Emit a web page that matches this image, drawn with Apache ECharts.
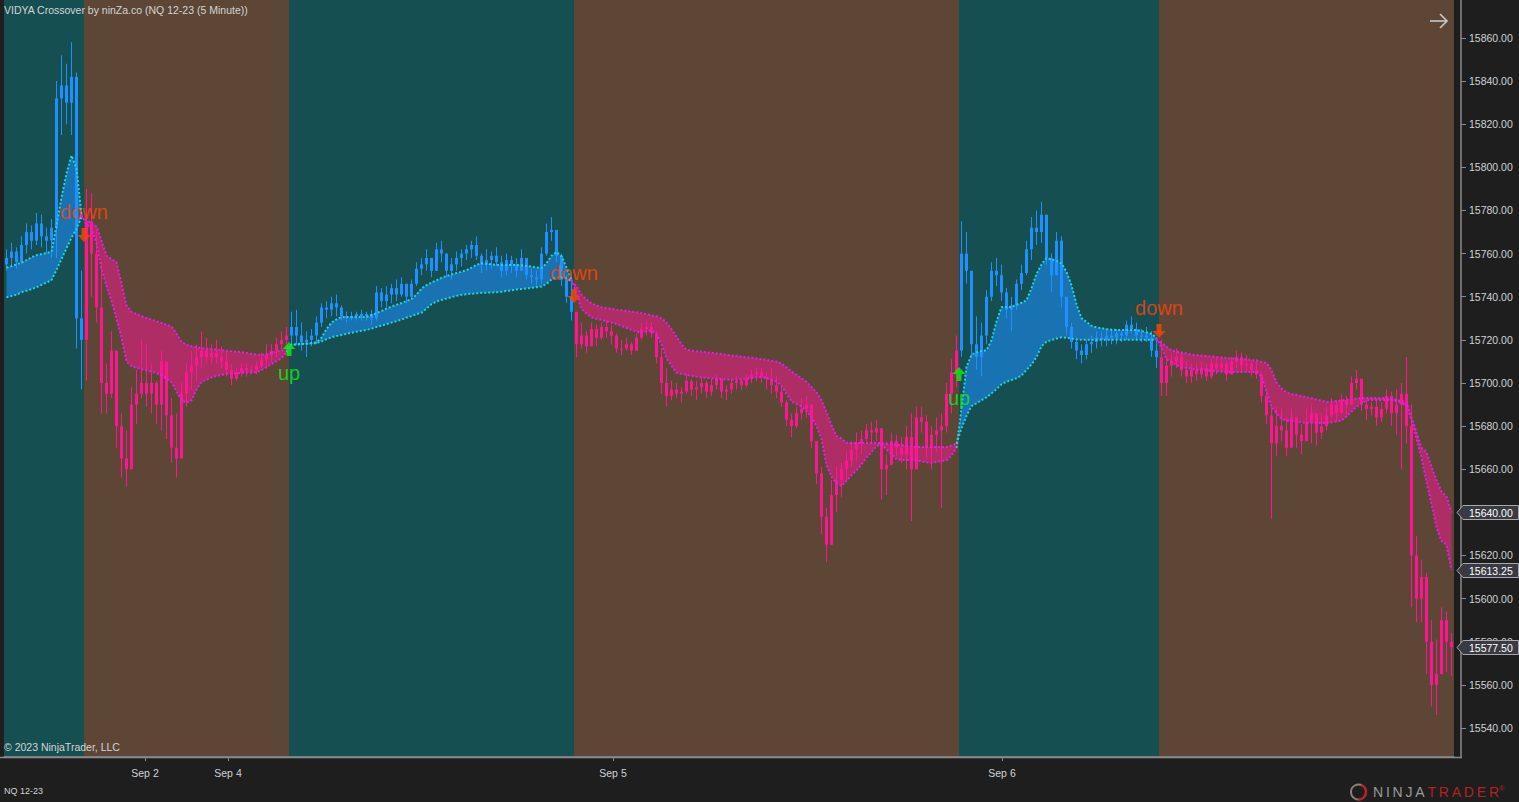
<!DOCTYPE html>
<html><head><meta charset="utf-8">
<script src="https://cdn.jsdelivr.net/npm/echarts@6/dist/echarts.min.js"></script>
<style>html,body{margin:0;padding:0;background:#1e1e1e;overflow:hidden}#chart{width:1519px;height:802px}</style>
</head><body><div id="chart"></div>
<script>
// ---------------- DATA ----------------
const firstOpen = 15755;
const highs = [15762,15765,15763,15768,15774,15773,15779,15778,15772,15776,
15840,15852,15848,15858,15844,15752,15790,15788,15771,15756,
15709,15724,15709,15686,15678,15698,15706,15720,15718,15709,
15701,15715,15700,15693,15686,15700,15709,15715,15718,15724,
15721,15718,15720,15717,15715,15709,15707,15709,15709,15708,
15710,15714,15718,15718,15721,15724,15726,15733,15734,15728,
15724,15725,15731,15737,15738,15740,15741,15736,15733,15733,
15733,15734,15733,15734,15745,15744,15745,15746,15748,15749,
15744,15748,15756,15758,15762,15757,15765,15766,15757,15758,
15761,15762,15764,15766,15768,15760,15762,15761,15763,15759,
15760,15759,15758,15762,15757,15753,15752,15763,15774,15777,
15770,15760,15750,15748,15732,15728,15724,15728,15727,15728,
15729,15727,15723,15720,15721,15719,15723,15728,15729,15728,
15724,15716,15707,15701,15700,15698,15704,15702,15701,15703,
15701,15702,15704,15701,15699,15702,15703,15702,15704,15706,
15707,15707,15705,15707,15703,15698,15692,15686,15689,15693,
15694,15689,15670,15661,15642,15655,15661,15663,15668,15673,
15677,15678,15681,15682,15683,15678,15667,15677,15676,15675,
15680,15686,15689,15689,15685,15680,15684,15686,15700,15711,
15722,15775,15770,15752,15731,15728,15743,15756,15758,15755,
15744,15740,15748,15755,15766,15777,15780,15784,15772,15760,
15770,15768,15740,15728,15721,15718,15720,15722,15724,15724,
15725,15725,15725,15724,15729,15731,15728,15725,15726,15724,
15721,15720,15712,15713,15716,15714,15710,15709,15709,15710,
15709,15711,15712,15712,15710,15712,15715,15714,15713,15710,
15711,15705,15697,15689,15689,15688,15684,15688,15684,15681,
15688,15690,15684,15686,15689,15693,15692,15695,15694,15703,
15706,15697,15692,15691,15692,15691,15697,15696,15697,15700,
15712,15690,15629,15618,15612,15590,15581,15596,15594,15584];
const lows = [15752,15754,15753,15755,15760,15762,15764,15763,15760,15758,
15758,15815,15820,15815,15716,15697,15701,15740,15728,15686,
15686,15693,15670,15656,15652,15670,15681,15693,15689,15686,
15681,15678,15674,15663,15656,15674,15689,15697,15701,15707,
15709,15709,15709,15707,15703,15699,15701,15703,15703,15704,
15704,15707,15707,15710,15712,15715,15717,15716,15718,15715,
15712,15717,15718,15726,15730,15731,15731,15729,15728,15729,
15729,15729,15729,15727,15729,15735,15735,15737,15738,15740,
15737,15739,15745,15750,15752,15749,15752,15756,15749,15748,
15752,15754,15757,15758,15757,15751,15752,15753,15754,15749,
15750,15751,15749,15752,15748,15746,15745,15746,15759,15766,
15756,15745,15737,15729,15712,15716,15714,15718,15717,15720,
15721,15718,15714,15713,15715,15713,15716,15720,15722,15721,
15709,15695,15689,15692,15693,15691,15695,15694,15692,15695,
15693,15694,15697,15693,15692,15695,15697,15697,15698,15700,
15701,15700,15697,15695,15693,15689,15680,15675,15679,15683,
15684,15670,15653,15630,15617,15625,15640,15647,15655,15661,
15664,15667,15673,15672,15673,15646,15648,15668,15666,15663,
15660,15636,15670,15677,15665,15660,15668,15642,15677,15686,
15698,15712,15746,15712,15706,15703,15718,15738,15745,15738,
15730,15724,15734,15743,15750,15757,15764,15765,15755,15742,
15750,15735,15722,15716,15711,15709,15711,15714,15716,15717,
15717,15718,15718,15719,15720,15723,15720,15719,15719,15712,
15707,15694,15694,15703,15707,15703,15700,15700,15701,15702,
15701,15702,15704,15705,15701,15704,15707,15705,15705,15703,
15702,15691,15681,15637,15666,15673,15666,15673,15670,15667,
15674,15672,15671,15674,15678,15684,15682,15687,15685,15693,
15697,15687,15683,15685,15680,15682,15686,15680,15676,15660,
15672,15596,15589,15589,15565,15550,15546,15572,15566,15564];
const closes = [15758,15761,15756,15764,15770,15766,15774,15768,15766,15772,
15832,15838,15830,15842,15730,15720,15775,15760,15735,15700,
15695,15715,15680,15665,15660,15690,15695,15700,15695,15700,
15690,15710,15685,15670,15665,15695,15705,15708,15712,15715,
15712,15714,15712,15710,15706,15702,15705,15707,15706,15706,
15708,15711,15713,15715,15718,15720,15722,15726,15722,15719,
15720,15722,15728,15735,15734,15737,15735,15731,15730,15731,
15732,15731,15732,15730,15742,15738,15741,15744,15741,15746,
15740,15746,15753,15755,15758,15752,15762,15760,15752,15755,
15758,15760,15762,15764,15759,15755,15757,15759,15756,15752,
15757,15755,15752,15758,15750,15749,15748,15760,15770,15771,
15759,15748,15740,15733,15718,15722,15717,15725,15721,15726,
15724,15722,15716,15716,15718,15715,15721,15725,15726,15723,
15712,15700,15694,15697,15695,15696,15701,15697,15698,15700,
15696,15699,15702,15696,15697,15700,15701,15699,15702,15704,
15705,15703,15702,15699,15696,15691,15683,15680,15686,15688,
15690,15673,15658,15638,15625,15648,15655,15660,15664,15669,
15672,15674,15678,15677,15679,15660,15662,15673,15670,15667,
15675,15660,15684,15682,15670,15676,15678,15680,15695,15705,
15715,15760,15752,15718,15712,15722,15740,15752,15750,15742,
15734,15736,15746,15751,15762,15772,15770,15778,15758,15750,
15766,15740,15726,15719,15715,15713,15718,15719,15721,15720,
15722,15721,15723,15722,15727,15725,15722,15722,15721,15715,
15712,15700,15708,15710,15712,15706,15703,15706,15704,15707,
15703,15709,15707,15709,15704,15710,15712,15708,15709,15706,
15704,15694,15685,15672,15680,15678,15670,15684,15676,15673,
15682,15686,15677,15680,15685,15690,15686,15692,15690,15700,
15702,15690,15688,15689,15684,15688,15694,15686,15690,15695,
15680,15620,15600,15610,15580,15560,15565,15590,15580,15577.5];
const fastVidya = [15753.5,15754.2,15755,15755.8,15757,15758.3,15759.3,15759.8,15760.3,15760.8,
15773,15786,15797,15805.5,15799.5,15778,15773.5,15771.5,15765,15753,
15745,15738,15730,15721,15710,15707.8,15707,15706.4,15705.8,15705.2,
15704.6,15703.5,15702,15700.4,15696,15692,15690.8,15692,15697,15700.5,
15701.5,15702.6,15703.2,15703.7,15704.1,15704.4,15704.5,15704.7,15704.8,15704.9,
15705,15706,15707.3,15708.8,15710.2,15711.5,15714.2,15717.8,15718,15718.2,
15718.3,15718.5,15718.8,15721,15725,15728,15729.5,15730.6,15730.6,15730.6,
15730.6,15730.6,15730.6,15731.5,15732.4,15733.4,15734.5,15735.4,15736.3,15737.1,
15738,15738.9,15741,15743.8,15745.4,15746.6,15747.6,15748.8,15749.6,15750.3,
15751,15751.6,15752.3,15753.5,15754.8,15755.5,15755.3,15755,15754.8,15754.7,
15754.7,15754.7,15754.7,15754.6,15754.3,15754,15753.6,15753.3,15755.5,15759,
15760.7,15758.8,15753.5,15748,15741.5,15734.5,15732.2,15730.5,15729.8,15729.3,
15728.6,15728,15727.3,15726.4,15725.5,15724.7,15723.8,15723.3,15723.9,15724.4,
15722.5,15718,15711.5,15708,15704.8,15704.2,15703.8,15703.3,15702.9,15702.6,
15702.4,15702.2,15702,15701.8,15701.6,15701.5,15701.6,15701.8,15702,15702.3,
15702.6,15702.8,15702.3,15701.6,15700.6,15698.6,15695,15691.5,15690.2,15689.2,
15687,15684,15680,15674,15662,15656.5,15653.5,15652.2,15654.7,15657.3,
15659.4,15662.3,15665.4,15668,15670.8,15671.5,15669.2,15667,15664.6,15664.3,
15664.3,15664.3,15664,15663.6,15663.2,15663,15663.4,15663.8,15664.2,15666.5,
15669.8,15688,15707.5,15713,15714.2,15714.8,15715.2,15719.8,15728.5,15735.2,
15735.2,15735.2,15736.3,15737.2,15738.4,15744,15750.5,15755,15757.9,15757.3,
15756.6,15755.5,15751.5,15745.3,15736.5,15730.1,15728.3,15726.5,15725.8,15725.4,
15725,15724.7,15724.6,15724.6,15724.6,15724.6,15724.6,15724.1,15723.5,15722.8,
15721,15716.4,15711,15709.8,15708.3,15707.3,15707,15706.6,15706.3,15706,
15705.8,15705.6,15705.4,15705.2,15705.1,15705.1,15705.1,15705.1,15705.1,15705.1,
15705.1,15703,15696,15689,15686,15683.3,15682.6,15682.3,15682,15681.8,
15681.5,15681.4,15681.4,15681.4,15681.4,15681.8,15682.2,15682.6,15684.5,15686.8,
15689,15690.5,15692,15692.1,15692.1,15692.1,15692.1,15692.1,15691.5,15690.6,
15689.6,15683,15674,15665.5,15654,15644,15633,15626.7,15625,15613.25];
const slowVidya = [15739.8,15740.3,15740.9,15742.1,15742.8,15743.5,15744.4,15745.5,15746.6,15747.7,
15752.5,15757.5,15762.5,15767.4,15771.5,15777,15775.5,15774,15772.5,15766,
15759,15757.5,15756,15746,15736,15733,15732,15731,15730.2,15729.4,
15728.6,15727.8,15727,15726.2,15723,15719,15717.8,15717,15716.5,15716.1,
15715.9,15715.7,15715.5,15715.2,15715,15714.7,15714.5,15714.3,15714,15713.5,
15713.2,15713,15713.5,15714,15714.5,15715,15716.2,15717.6,15717.8,15718,
15718.2,15718.4,15718.5,15719.3,15720.3,15721.2,15721.8,15722.3,15722.8,15723.3,
15723.8,15724.2,15724.6,15725.2,15726,15726.6,15727.3,15728,15728.7,15729.4,
15730.3,15731,15731.9,15732.6,15734.5,15736.6,15737.8,15738.5,15739.2,15739.8,
15740.4,15740.9,15741.2,15741.4,15741.6,15741.8,15741.9,15742,15742.1,15742.3,
15742.7,15743,15743.4,15743.6,15743.8,15744.1,15744.4,15744.7,15746,15748,
15748.9,15749,15748.4,15747.2,15744.8,15741,15738.7,15736.9,15735.9,15735.1,
15734.7,15734.4,15734,15733.7,15733.4,15733.1,15732.8,15732.4,15731.9,15731.4,
15731,15730,15728,15725,15721.5,15717.9,15715.4,15715,15714.7,15714.5,
15714.2,15714,15713.7,15713.4,15713.1,15712.8,15712.5,15712.2,15711.9,15711.7,
15711.4,15711,15710.7,15710.3,15710,15709,15707.3,15705.3,15703.8,15702.2,
15700.5,15698,15695.7,15692,15686.5,15680.5,15675.5,15674.2,15672.3,15672.2,
15672.2,15672.2,15672.2,15672.2,15672.2,15672.1,15671.9,15671.7,15671.4,15671.2,
15670.9,15670.6,15670.3,15670.3,15670.3,15670.3,15670.3,15670.3,15670.3,15671,
15672,15679,15684.8,15689.3,15690.6,15692,15693.3,15695.2,15697.2,15699.4,
15700.6,15701.4,15702.2,15703.5,15706,15708.6,15712,15717,15719.2,15719.9,
15720.6,15721.2,15721,15720.6,15720.2,15720,15720,15720,15720,15720,
15720,15720,15720,15720,15720,15720,15720,15720,15720,15720,
15720.1,15718.6,15716.8,15715.1,15714.6,15714.2,15713.7,15713.1,15712.9,15712.7,
15712.5,15712.3,15712,15711.8,15711.6,15711.4,15711.3,15711.1,15710.9,15710.7,
15710.3,15709.8,15709.3,15706,15700.3,15697.5,15695.5,15694.9,15694.4,15693.9,
15693.4,15692.9,15692.3,15691.8,15691.2,15691.4,15691.7,15692,15692.2,15692.5,
15692.8,15693,15693,15693,15693,15693,15693,15692.6,15692.1,15691.7,
15691,15684,15677,15670,15668,15661,15655,15649.7,15647.3,15640];
const signalBars = [16, 57, 114, 191, 231];
const signalTypes = ['down', 'up', 'down', 'up', 'down'];
const signalPrices = [15768.6, 15715.8, 15740.4, 15704.2, 15724.1];
const xTickBars = [27.7, 44.3, 121.3, 199.1];
const xTickLabels = ['Sep 2', 'Sep 4', 'Sep 5', 'Sep 6'];
const yTicks = [15540,15560,15580,15600,15620,15640,15660,15680,15700,15720,15740,15760,15780,15800,15820,15840,15860];
const yMin = 15526.55, yMax = 15877.62;

// ---------------- STYLE ----------------
const FONT = 'Arial, "Liberation Sans", sans-serif';
const UP_BG = '#164f52', DN_BG = '#5d4636';
const UP_BAR = '#1e90ff', DN_BAR = '#ff1493';
const UP_FILL = 'rgba(30,144,255,0.55)', DN_FILL = 'rgba(255,20,147,0.5)';
const UP_DOT = '#22d3de', DN_DOT = '#e020e6';
const AXIS_C = '#8a8a8a', LABEL_C = '#cfd3d8';

const N = closes.length;
const opens = closes.map((c, i) => i === 0 ? firstOpen : closes[i - 1]);

// regions between signals
const regions = [];
const bounds = [-0.5].concat(signalBars.map(s => s - 0.5)).concat([N - 0.5]);
for (let k = 0; k < bounds.length - 1; k++) {
  const up = k === 0 ? signalTypes[0] !== 'up' : signalTypes[k - 1] === 'up';
  const a = k === 0 ? 0 : signalBars[k - 1] - 1;
  const b = k < signalBars.length ? signalBars[k] - 1 : N - 1;
  regions.push({ start: bounds[k], end: bounds[k + 1], up, a, b });
}
const trendUp = closes.map((c, i) => regions.find(r => i >= r.start && i <= r.end).up);

const series = [];
// background regions
series.push({
  type: 'custom', silent: true, z: 0,
  data: regions.map(r => [r.start, r.end, r.up ? 1 : 0, yMin, yMax]),
  encode: { x: [0, 1], y: [3, 4] },
  renderItem: (params, api) => {
    const p0 = api.coord([api.value(0), yMax]);
    const p1 = api.coord([api.value(1), yMin]);
    const x0 = Math.round(p0[0]), x1 = Math.round(p1[0]);
    return { type: 'rect', shape: { x: x0, y: p0[1], width: x1 - x0, height: p1[1] - p0[1] },
      style: { fill: api.value(2) ? UP_BG : DN_BG } };
  }
});
// VIDYA bands
series.push({
  type: 'custom', silent: true, z: 2,
  data: regions.map((r, k) => [r.a, fastVidya[r.a], k]),
  encode: { x: 0, y: 1 },
  renderItem: (params, api) => {
    const r = regions[api.value(2)];
    const pts = [];
    for (let i = r.a; i <= r.b; i++) pts.push(api.coord([i, fastVidya[i]]));
    for (let i = r.b; i >= r.a; i--) pts.push(api.coord([i, slowVidya[i]]));
    return { type: 'polygon', shape: { points: pts }, style: { fill: r.up ? UP_FILL : DN_FILL } };
  }
});
// price bars
series.push({
  type: 'custom', silent: true, z: 3,
  data: closes.map((c, i) => [i, opens[i], c, lows[i], highs[i], trendUp[i] ? 1 : 0]),
  encode: { x: 0, y: [1, 2, 3, 4] },
  renderItem: (params, api) => {
    const i = api.value(0), o = api.value(1), c = api.value(2);
    const l = Math.min(api.value(3), o, c), h = Math.max(api.value(4), o, c);
    const col = api.value(5) ? UP_BAR : DN_BAR;
    const ph = api.coord([i, h]), pl = api.coord([i, l]);
    const po = api.coord([i, o]), pc = api.coord([i, c]);
    const x = Math.floor(ph[0]);
    const top = Math.min(po[1], pc[1]);
    const bh = Math.max(1, Math.abs(po[1] - pc[1]));
    return { type: 'group', children: [
      { type: 'rect', shape: { x: x, y: ph[1], width: 1, height: pl[1] - ph[1] }, style: { fill: col } },
      { type: 'rect', shape: { x: x - 1, y: top, width: 3, height: bh }, style: { fill: col } }
    ] };
  }
});
// VIDYA dotted lines
regions.forEach(r => {
  [fastVidya, slowVidya].forEach(arr => {
    const d = [];
    for (let i = r.a; i <= r.b; i++) d.push([i, arr[i]]);
    series.push({ type: 'line', data: d, symbol: 'none', silent: true, z: 4,
      lineStyle: { color: r.up ? UP_DOT : DN_DOT, width: 2, type: [2, 2] } });
  });
});
// signals
const DOWN_PATH = 'path://M4,0 L9,0 L9,7 L13,7 L6.5,14 L0,7 L4,7 Z';
const UP_PATH = 'path://M6.5,0 L13,7 L9,7 L9,14 L4,14 L4,7 L0,7 Z';
series.push({
  type: 'scatter', z: 6, silent: true,
  data: signalBars.map((s, k) => {
    const dn = signalTypes[k] === 'down';
    return {
      value: [s - 0.5, signalPrices[k]],
      symbol: dn ? DOWN_PATH : UP_PATH, symbolSize: [13, 14],
      itemStyle: { color: dn ? '#ff4500' : '#11ee11' },
      label: { show: true, formatter: signalTypes[k], position: dn ? 'top' : 'bottom', distance: dn ? 6 : 7,
        color: dn ? '#ff4500' : '#11ee11', fontSize: 20, fontFamily: FONT }
    };
  })
});
// last-value price tags on the axis
const tagValues = [slowVidya[N - 1], fastVidya[N - 1], closes[N - 1]];
series.push({
  type: 'custom', z: 20, silent: true, clip: false,
  data: tagValues.map(v => [N - 1, v]),
  encode: { x: 0, y: 1 },
  renderItem: (params, api) => {
    const v = api.value(1);
    const p = api.coord([N - 0.5, v]);
    const x0 = Math.round(p[0]) + 3, y = Math.round(p[1]) + 0.5, h = 7;
    const xr = api.getWidth() - 0.5;
    return { type: 'group', children: [
      { type: 'polygon', shape: { points: [[x0, y], [x0 + 6, y - h], [xr, y - h], [xr, y + h], [x0 + 6, y + h]] },
        style: { fill: '#3a3a43', stroke: '#a8a8b0', lineWidth: 1 } },
      { type: 'text', style: { text: v.toFixed(2), x: x0 + 12, y: y, verticalAlign: 'middle', fill: '#ffffff', font: '10.5px ' + FONT } }
    ] };
  }
});

const chart = echarts.init(document.getElementById('chart'), null, { renderer: 'svg' });
chart.setOption({
  backgroundColor: '#1e1e1e',
  animation: false,
  textStyle: { fontFamily: FONT },
  grid: { left: 4, right: 65, top: 0, bottom: 45 },
  xAxis: {
    type: 'value', min: -0.5, max: N - 0.5,
    axisLine: { show: true, onZero: false, lineStyle: { color: AXIS_C, width: 1.5 } },
    axisTick: { show: true, customValues: xTickBars, length: 4, lineStyle: { color: AXIS_C } },
    axisLabel: { customValues: xTickBars, color: LABEL_C, fontSize: 10.5, margin: 10,
      formatter: v => { const k = xTickBars.findIndex(t => Math.abs(t - v) < 1e-6); return k >= 0 ? xTickLabels[k] : ''; } },
    splitLine: { show: false }
  },
  yAxis: {
    type: 'value', position: 'right', offset: 7, min: yMin, max: yMax,
    axisLine: { show: true, onZero: false, lineStyle: { color: AXIS_C, width: 1.5 } },
    axisTick: { show: true, customValues: yTicks, length: 5, lineStyle: { color: AXIS_C } },
    axisLabel: { customValues: yTicks, color: LABEL_C, fontSize: 10.5, margin: 8, formatter: v => v.toFixed(2) },
    splitLine: { show: false }
  },
  graphic: [
    { type: 'line', z: 1, shape: { x1: 0, y1: 757.5, x2: 1462, y2: 757.5 }, style: { stroke: AXIS_C, lineWidth: 1.5 } },
    { type: 'text', left: 4, top: 4, z: 30, style: { text: 'VIDYA Crossover by ninZa.co (NQ 12-23 (5 Minute))', fill: '#d4d4d4', font: '10.5px ' + FONT } },
    { type: 'text', left: 4, top: 741, z: 30, style: { text: '© 2023 NinjaTrader, LLC', fill: '#d4d4d4', font: '10.5px ' + FONT } },
    { type: 'text', left: 4, top: 786, z: 30, style: { text: 'NQ 12-23', fill: '#d4d4d4', font: '9px ' + FONT } },
    { type: 'polyline', z: 30, shape: { points: [[1430, 21], [1447, 21]] }, style: { stroke: '#c8c8c8', lineWidth: 1.6 } },
    { type: 'polyline', z: 30, shape: { points: [[1440, 14], [1447, 21], [1440, 28]] }, style: { stroke: '#c8c8c8', lineWidth: 1.6, fill: 'none' } },
    { type: 'circle', z: 30, shape: { cx: 1358.5, cy: 792, r: 7.5 }, style: { fill: 'none', stroke: '#8c8078', lineWidth: 2 } },
    { type: 'arc', z: 31, shape: { cx: 1358.5, cy: 792, r: 7.5, startAngle: -1.2, endAngle: 1.6 }, style: { fill: 'none', stroke: '#b52025', lineWidth: 2.5 } },
    { type: 'text', left: 1373, top: 785, z: 30, style: {
      text: '{a|N\u2009I\u2009N\u2009J\u2009A\u2009}{b|T\u2009R\u2009A\u2009D\u2009E\u2009R}{c|®}',
      rich: { a: { fill: '#9a9a9a', font: '14px ' + FONT }, b: { fill: '#b52025', font: '14px ' + FONT }, c: { fill: '#b52025', font: '7px ' + FONT, verticalAlign: 'top' } } } }
  ],
  series: series
});
</script>
</body></html>
